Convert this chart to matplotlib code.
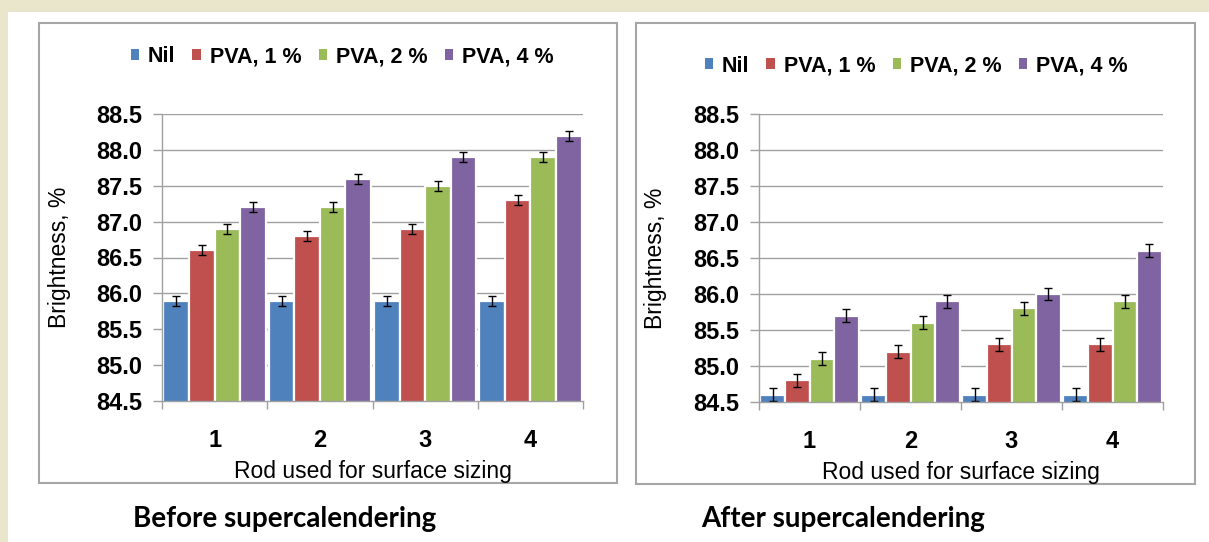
import numpy as np
import matplotlib.pyplot as plt
from matplotlib.patches import Rectangle, Patch

plt.rcParams["font.family"] = "Liberation Sans"

# data
rods = [1, 2, 3, 4]
series = ["Nil", "PVA, 1 %", "PVA, 2 %", "PVA, 4 %"]
colors = ["#4F81BD", "#C0504D", "#9BBB59", "#8064A2"]

before_nil = [85.9, 85.9, 85.9, 85.9]
before_pva1 = [86.6, 86.8, 86.9, 87.3]
before_pva2 = [86.9, 87.2, 87.5, 87.9]
before_pva4 = [87.2, 87.6, 87.9, 88.2]
before_err = 0.07

after_nil = [84.6, 84.6, 84.6, 84.6]
after_pva1 = [84.8, 85.2, 85.3, 85.3]
after_pva2 = [85.1, 85.6, 85.8, 85.9]
after_pva4 = [85.7, 85.9, 86.0, 86.6]
after_err = 0.09

y_ticks = [84.5, 85.0, 85.5, 86.0, 86.5, 87.0, 87.5, 88.0, 88.5]

W, H = 1209, 542
GRAY = "#A0A0A0"


def fx(px):
    return px / W


def fy(py):
    return 1 - py / H


fig = plt.figure(figsize=(W / 100, H / 100), dpi=100, facecolor="#EAE6CC")

# white page and the two panel frames
fig.patches.append(Rectangle((fx(8), 0), 1, fy(12), transform=fig.transFigure,
                             facecolor="white", edgecolor="none", zorder=-5))
for x0, x1, y0, y1 in [(39, 617, 23, 483), (636, 1195, 23, 484)]:
    fig.patches.append(Rectangle((fx(x0), fy(y1)), fx(x1 - x0), (y1 - y0) / H,
                                 transform=fig.transFigure, fill=False,
                                 edgecolor="#A6A6A6", lw=1.5, zorder=-4))


def panel(rect, vals, err, leg_xy, ylab_x, caption, cap_x):
    ax = fig.add_axes(rect)
    ax.patch.set_alpha(0)
    x = np.array(rods)
    w = 0.243
    for k, (v, c) in enumerate(zip(vals, colors)):
        ax.bar(x + (k - 1.5) * w, v, width=w, color=c, edgecolor="white", lw=1.6,
               yerr=err, error_kw=dict(ecolor="black", elinewidth=1, capsize=3, capthick=1),
               zorder=2)
    ax.set_xlim(0.5, 4.5)
    ax.set_ylim(84.5, 88.5)
    ax.set_yticks(y_ticks)
    ax.set_yticklabels([f"{t:.1f}" for t in y_ticks], fontsize=17, fontweight="bold")
    ax.set_xticks(rods)
    ax.set_xticklabels([str(r) for r in rods], fontsize=17, fontweight="bold")
    ax.set_xticks([0.5, 1.5, 2.5, 3.5, 4.5], minor=True)
    ax.tick_params(axis="x", which="major", length=0, pad=20)
    ax.tick_params(axis="x", which="minor", length=6, width=1, color=GRAY, direction="out")
    ax.tick_params(axis="y", length=6.5, width=1, color=GRAY, pad=8)
    ax.yaxis.grid(True, color=GRAY, lw=1)
    ax.set_axisbelow(True)
    for s in ["top", "right"]:
        ax.spines[s].set_visible(False)
    for s in ["left", "bottom"]:
        ax.spines[s].set_color(GRAY)
        ax.spines[s].set_linewidth(1)

    ax.set_xlabel("Rod used for surface sizing", fontsize=16.5)
    ax.xaxis.set_label_coords(0.5, -0.205)
    ax.set_ylabel("Brightness, %", fontsize=16.5)
    ax.yaxis.set_label_coords(ylab_x, 0.5)

    handles = [Patch(facecolor=c, edgecolor="none") for c in colors]
    ax.legend(handles, series, loc="center", bbox_to_anchor=leg_xy,
              bbox_transform=fig.transFigure, ncol=4, frameon=False,
              prop=dict(size=15.5, weight="bold"), handlelength=0.4,
              handleheight=0.4, handletextpad=0.4, columnspacing=0.8,
              borderpad=0, borderaxespad=0)

    fig.text(cap_x, fy(527), caption, family="Lato", fontweight="bold",
             fontsize=20, ha="left", va="baseline")
    return ax


panel([fx(162), fy(401), fx(583 - 162), (401 - 114) / H],
      [before_nil, before_pva1, before_pva2, before_pva4], before_err,
      (fx(342), fy(57)), -0.215, "Before supercalendering", fx(133))
panel([fx(759), fy(402), fx(1163 - 759), (402 - 114) / H],
      [after_nil, after_pva1, after_pva2, after_pva4], after_err,
      (fx(916), fy(66)), -0.228, "After supercalendering", fx(701))

fig.savefig("out.png", dpi=100, facecolor=fig.get_facecolor())
